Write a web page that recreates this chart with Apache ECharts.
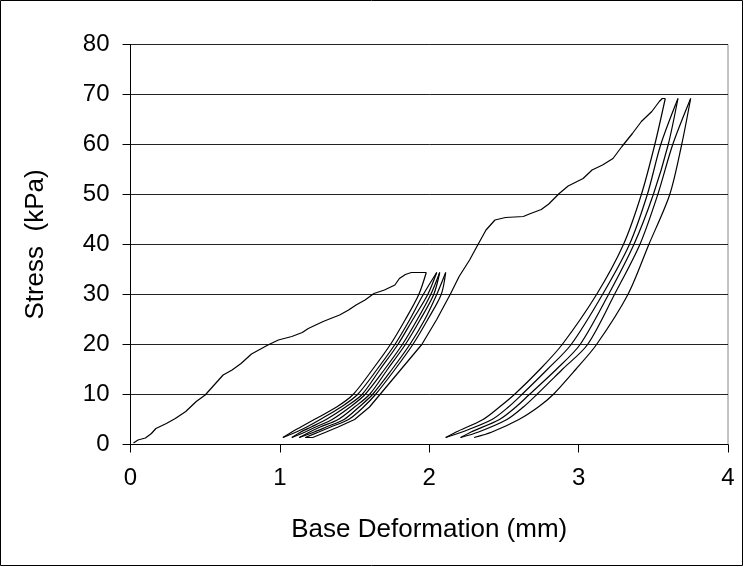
<!DOCTYPE html>
<html>
<head>
<meta charset="utf-8">
<script src="https://cdn.jsdelivr.net/npm/echarts@6/dist/echarts.min.js"></script>
<style>
html,body{margin:0;padding:0;background:#fff;}
#chart{width:744px;height:567px;}
</style>
</head>
<body>
<div id="chart"></div>
<script>
// Axis ticks
const xTicks = [0, 1, 2, 3, 4];
const yTicks = [0, 10, 20, 30, 40, 50, 60, 70, 80];

// First loading curve [deformation mm, stress kPa]
const firstLoad = [[0.02,0.3],[0.05,0.9],[0.10,1.3],[0.14,2.2],[0.17,3.2],[0.24,4.2],[0.30,5.2],[0.37,6.6],[0.44,8.6],[0.50,9.9],[0.56,11.9],[0.62,13.9],[0.68,14.9],[0.74,16.2],[0.81,18.1],[0.92,19.9],[0.99,20.9],[1.08,21.6],[1.15,22.4],[1.19,23.2],[1.29,24.6],[1.34,25.2],[1.40,25.9],[1.46,26.9],[1.51,27.9],[1.57,28.9],[1.63,30.2],[1.70,30.9],[1.77,31.9],[1.80,33.2],[1.84,34.0],[1.88,34.4],[1.98,34.4]];

// Cycles at ~34.4 kPa: stress levels and deformation of each branch at those levels
const cycle1Stress = [1.4, 2.5, 3.5, 5, 7.5, 10, 15, 20, 25, 30, 34.4];
const c1Unload1 = [1.02, 1.08, 1.14, 1.23, 1.38, 1.49, 1.62, 1.74, 1.84, 1.93, 1.98];
const c1Reload1 = [1.02, 1.11, 1.18, 1.27, 1.41, 1.52, 1.65, 1.77, 1.87, 1.96, 2.05];
const c1Unload2 = [1.08, 1.14, 1.21, 1.31, 1.44, 1.55, 1.67, 1.79, 1.89, 1.99, 2.05];
const c1Reload2 = [1.08, 1.17, 1.24, 1.35, 1.47, 1.57, 1.70, 1.82, 1.92, 2.01, 2.07];
const c1Unload3 = [1.13, 1.20, 1.27, 1.39, 1.50, 1.60, 1.72, 1.84, 1.94, 2.03, 2.07];
const c1Reload3 = [1.13, 1.23, 1.31, 1.43, 1.53, 1.62, 1.75, 1.87, 1.97, 2.05, 2.11];
const c1Unload4 = [1.17, 1.26, 1.34, 1.46, 1.56, 1.64, 1.77, 1.89, 1.99, 2.08, 2.11];

// Second loading curve (continues from the last reload to ~69 kPa)
const secondLoad = [[1.17,1.4],[1.22,1.4],[1.31,2.5],[1.39,3.5],[1.50,5],[1.60,7.5],[1.67,10],[1.81,15],[1.95,20],[2.05,25],[2.14,30],[2.20,33.6],[2.27,36.9],[2.33,40.2],[2.38,42.9],[2.44,44.9],[2.51,45.4],[2.63,45.6],[2.67,46.1],[2.75,47.0],[2.80,48.1],[2.87,50.2],[2.93,51.7],[3.03,53.2],[3.09,54.9],[3.16,55.9],[3.23,57.2],[3.29,59.6],[3.36,62.2],[3.42,64.6],[3.49,66.6],[3.54,68.6],[3.56,69.2],[3.58,69.2]];

// Cycles at ~69 kPa
const cycle2Stress = [1.4, 2.5, 5, 7.5, 10, 15, 20, 30, 40, 50, 60, 69.2];
const c2Unload1 = [2.11, 2.18, 2.36, 2.47, 2.57, 2.74, 2.89, 3.12, 3.30, 3.42, 3.51, 3.58];
const c2Reload1 = [2.11, 2.22, 2.42, 2.53, 2.62, 2.79, 2.95, 3.16, 3.34, 3.46, 3.55, 3.665];
const c2Unload2 = [2.21, 2.28, 2.47, 2.58, 2.67, 2.85, 3.01, 3.20, 3.37, 3.50, 3.60, 3.665];
const c2Reload2 = [2.21, 2.33, 2.52, 2.63, 2.72, 2.89, 3.06, 3.24, 3.41, 3.53, 3.63, 3.75];
const c2Unload3 = [2.30, 2.42, 2.60, 2.73, 2.83, 2.98, 3.12, 3.33, 3.47, 3.61, 3.69, 3.75];

function branch(xs, ys) { return xs.map((x, i) => [x, ys[i]]); }

const loops = [
  branch(c1Unload1, cycle1Stress), branch(c1Reload1, cycle1Stress),
  branch(c1Unload2, cycle1Stress), branch(c1Reload2, cycle1Stress),
  branch(c1Unload3, cycle1Stress), branch(c1Reload3, cycle1Stress),
  branch(c1Unload4, cycle1Stress),
  branch(c2Unload1, cycle2Stress), branch(c2Reload1, cycle2Stress),
  branch(c2Unload2, cycle2Stress), branch(c2Reload2, cycle2Stress),
  branch(c2Unload3, cycle2Stress)
];

const lineStyle = {color: '#000', width: 1.2};
const series = [firstLoad, secondLoad].map(d => ({
  type: 'line', data: d, showSymbol: false, symbol: 'none', lineStyle, silent: true, z: 3
})).concat(loops.map(d => ({
  type: 'line', data: d, showSymbol: false, symbol: 'none', smooth: 0.3, lineStyle, silent: true, z: 3
})));

const chart = echarts.init(document.getElementById('chart'), null, {renderer: 'canvas'});
const font = 'Liberation Sans, Arial, sans-serif';
chart.setOption({
  animation: false,
  backgroundColor: '#fff',
  graphic: [{
    type: 'rect', silent: true,
    shape: {x: 0.5, y: 0.5, width: 742, height: 565},
    style: {fill: 'none', stroke: '#000', lineWidth: 1}
  }],
  grid: {left: 130.5, right: 16, top: 44.5, bottom: 122.5, show: true, borderColor: '#888', borderWidth: 1, backgroundColor: 'transparent'},
  xAxis: {
    type: 'value', min: xTicks[0], max: xTicks[xTicks.length - 1], interval: 1,
    name: 'Base Deformation (mm)', nameLocation: 'middle', nameGap: 72,
    nameTextStyle: {fontFamily: font, fontSize: 26, color: '#000'},
    axisLine: {show: true, lineStyle: {color: '#000', width: 1}},
    axisTick: {show: true, length: 8, lineStyle: {color: '#000'}},
    axisLabel: {fontFamily: font, fontSize: 24, color: '#000', margin: 22},
    splitLine: {show: false}
  },
  yAxis: {
    type: 'value', min: yTicks[0], max: yTicks[yTicks.length - 1], interval: 10,
    name: 'Stress  (kPa)', nameLocation: 'middle', nameGap: 82, nameRotate: 90,
    nameTextStyle: {fontFamily: font, fontSize: 26, color: '#000'},
    axisLine: {show: true, lineStyle: {color: '#000', width: 1}},
    axisTick: {show: true, length: 8, lineStyle: {color: '#000'}},
    axisLabel: {fontFamily: font, fontSize: 24, color: '#000', margin: 21},
    splitLine: {show: true, lineStyle: {color: '#222', width: 1}}
  },
  series
});
</script>
</body>
</html>
